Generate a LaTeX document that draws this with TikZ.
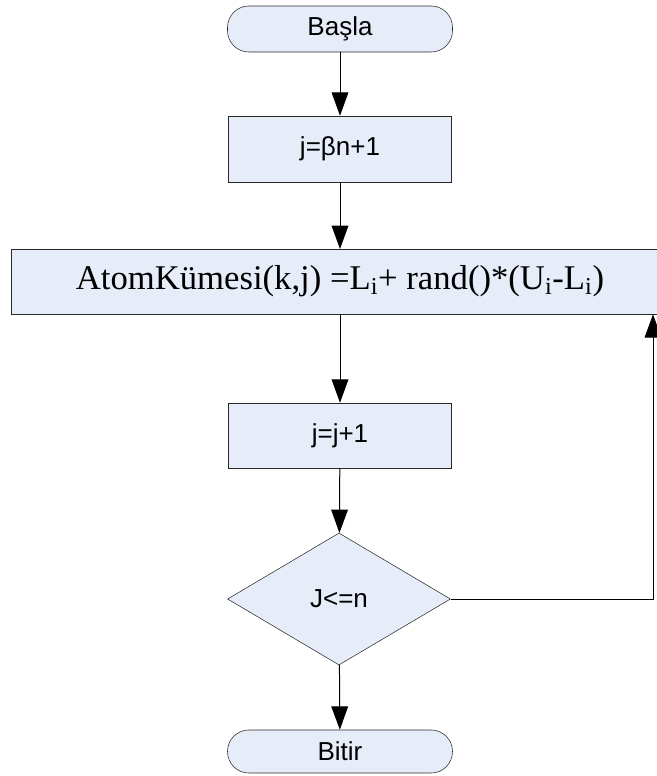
\documentclass[tikz,border=0pt]{standalone}
\usepackage{fontspec}
\setmainfont{Liberation Sans}
\newfontfamily\formulfont{Liberation Serif}
\usepackage{tikz}
\usetikzlibrary{shapes.geometric, arrows.meta}
\usepackage{xcolor}
\definecolor{kutu}{RGB}{230,236,248}
\definecolor{cizgi}{RGB}{40,40,40}

\begin{document}
\begin{tikzpicture}[x=0.75pt, y=-0.75pt,
  islem/.style={draw=cizgi, fill=kutu, rectangle, inner sep=0pt, font=\fontsize{19.5}{22}\selectfont},
  uclu/.style={islem, rounded corners=16pt},
  karar/.style={draw=cizgi, fill=kutu, diamond, aspect=1.69, inner sep=0pt, font=\fontsize{19.5}{22}\selectfont},
  ok/.style={-{Triangle[width=12.5pt, length=17.5pt]}, line width=0.75pt, black}]

% page
\clip (0,0) rectangle (657,776);
\useasboundingbox (0,0) rectangle (657,776);

\node[uclu, minimum width=168.75pt, minimum height=34.5pt] (basla) at (340,29) {Başla};
\node[islem, minimum width=167.25pt, minimum height=49.5pt] (beta) at (340,149) {j=βn+1};
\node[islem, minimum width=493.5pt, minimum height=48.75pt, font=\formulfont\fontsize{26}{28}\selectfont] (atom) at (340,281.5)
  {AtomKümesi(k,j) =L\textsubscript{i}+ rand()*(U\textsubscript{i}-L\textsubscript{i})};
\node[islem, minimum width=167.25pt, minimum height=48.75pt] (artir) at (340,435.5) {j=j+1};
\node[karar, minimum width=167.25pt, minimum height=99pt] (kosul) at (339,599) {J<=n};
\node[uclu, minimum width=168.75pt, minimum height=32.25pt] (bitir) at (340,751.5) {Bitir};

\draw[ok] (basla) -- (beta);
\draw[ok] (beta) -- (atom.south |- beta.south) -- (340,249);
\draw[ok] (atom.south) -- (artir);
\draw[ok] (artir) -- (kosul);
\draw[ok] (kosul) -- (bitir);

% back to the top of the loop
\coordinate (donus) at (653,599);
\draw[ok] (kosul.east) -- (donus) -- (donus |- atom.south);

\end{tikzpicture}
\end{document}
